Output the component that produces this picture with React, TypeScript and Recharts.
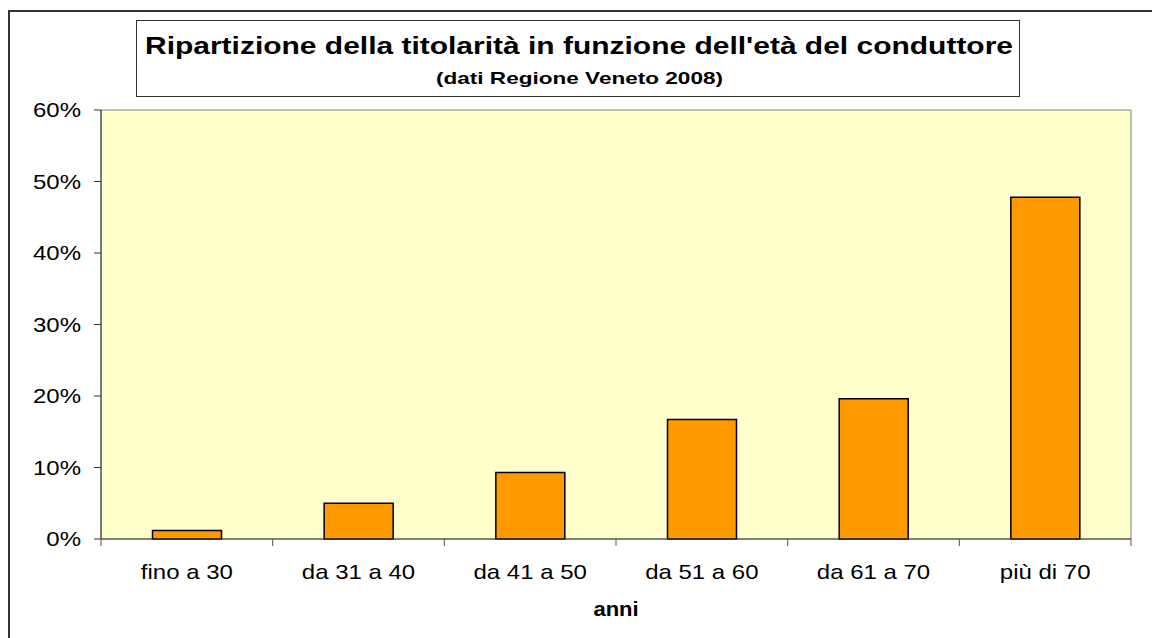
import * as React from "react"
import { Bar, BarChart, ReferenceArea, XAxis, YAxis } from "recharts"

const categories = ["fino a 30", "da 31 a 40", "da 41 a 50", "da 51 a 60", "da 61 a 70", "più di 70"]
const shares = [1.2, 5.0, 9.3, 16.7, 19.6, 47.8]
const yTicks = [0, 10, 20, 30, 40, 50, 60]

const titleText = "Ripartizione della titolarità in funzione dell'età del conduttore"
const subtitleText = "(dati Regione Veneto 2008)"
const xAxisTitle = "anni"

const data = categories.map((fascia, i) => ({ fascia, quota: shares[i] }))

const FONT = "'Liberation Sans', Arial, sans-serif"
const STRETCH = 1.2
const X_TICK_MARGIN = 26

function PercentTick({ x, y, payload }: any) {
  return (
    <g transform={`translate(${x},${y}) scale(${STRETCH},1)`}>
      <text x={0} y={0} dy="0.35em" textAnchor="end" fontFamily={FONT} fontSize={20} fill="#000">
        {payload.value}%
      </text>
    </g>
  )
}

function CategoryTick({ x, y, payload, index, visibleTicksCount, width }: any) {
  const half = payload.offset ?? width / visibleTicksCount / 2
  const axisY = y - X_TICK_MARGIN
  return (
    <g>
      <line x1={x - half} x2={x - half} y1={axisY} y2={axisY + 7} stroke="#555" />
      {index === visibleTicksCount - 1 && (
        <line x1={x + half} x2={x + half} y1={axisY} y2={axisY + 7} stroke="#555" />
      )}
      <g transform={`translate(${x},${y}) scale(${STRETCH},1)`}>
        <text x={0} y={0} dy="0.71em" textAnchor="middle" fontFamily={FONT} fontSize={20} fill="#000">
          {payload.value}
        </text>
      </g>
    </g>
  )
}

function AxisTitle({ viewBox }: any) {
  const cx = viewBox.x + viewBox.width / 2
  return (
    <g transform={`translate(${cx},${viewBox.y + 77}) scale(1.1,1)`}>
      <text x={0} y={0} textAnchor="middle" fontFamily={FONT} fontWeight="bold" fontSize={20} fill="#000">
        {xAxisTitle}
      </text>
    </g>
  )
}

export default function App() {
  return (
    <div style={{ position: "absolute", left: 0, top: 0, width: 1152, height: 638, overflow: "hidden", background: "#fff" }}>
      {/* cornice esterna: visibile solo a sinistra e in alto */}
      <div
        style={{
          position: "absolute",
          left: 8,
          top: 10,
          width: 1200,
          height: 700,
          borderLeft: "2px solid #333",
          borderTop: "2px solid #333",
        }}
      />
      <div style={{ position: "absolute", left: 0, top: 0 }}>
        <BarChart
          width={1152}
          height={638}
          data={data}
          margin={{ top: 110, right: 21, bottom: 0, left: 0 }}
          barCategoryGap="30%"
        >
          <XAxis
            dataKey="fascia"
            height={99}
            tickLine={false}
            tickSize={0}
            tickMargin={X_TICK_MARGIN}
            axisLine={{ stroke: "#404040" }}
            tick={<CategoryTick />}
            interval={0}
            label={AxisTitle}
          />
          <YAxis
            width={101}
            domain={[0, 60]}
            ticks={yTicks}
            tickSize={7}
            tickMargin={13}
            tickLine={{ stroke: "#333" }}
            axisLine={{ stroke: "#333" }}
            tick={<PercentTick />}
            interval={0}
          />
          <ReferenceArea y1={0} y2={60} fill="#FFFFCC" fillOpacity={1} stroke="#808080" strokeWidth={1} />
          <Bar dataKey="quota" fill="#FF9900" stroke="#000" strokeWidth={1.5} isAnimationActive={false} />
        </BarChart>
      </div>
      <div
        style={{
          position: "absolute",
          left: 136,
          top: 20,
          width: 882,
          height: 75,
          border: "1px solid #333",
          background: "#fff",
        }}
      >
        <svg width={882} height={75} style={{ display: "block" }}>
          <text
            x={442}
            y={33}
            textAnchor="middle"
            fontFamily={FONT}
            fontWeight="bold"
            fontSize={23}
            textLength={868}
            lengthAdjust="spacingAndGlyphs"
            fill="#000"
          >
            {titleText}
          </text>
          <text
            x={442.5}
            y={63}
            textAnchor="middle"
            fontFamily={FONT}
            fontWeight="bold"
            fontSize={17}
            textLength={287}
            lengthAdjust="spacingAndGlyphs"
            fill="#000"
          >
            {subtitleText}
          </text>
        </svg>
      </div>
    </div>
  )
}
